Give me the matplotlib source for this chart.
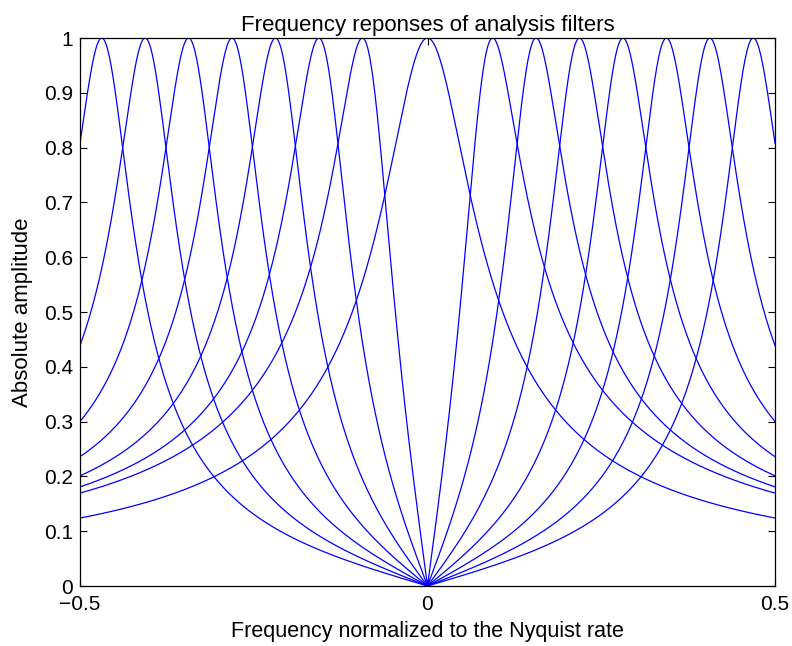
import numpy as np
import matplotlib
matplotlib.use("Agg")
import matplotlib.pyplot as plt

plt.rcParams['font.family'] = ['Liberation Sans', 'DejaVu Sans']

# Filter bank
# centre frequencies (normalized, Nyquist = 0.5); 0 is the lowpass channel
centers = [0.0, 0.09375, 0.15625, 0.21875, 0.28125, 0.34375, 0.40625, 0.46875]
# bandwidth parameter of each channel (lowpass cutoff for the first one)
bandwidths = [0.0625, 0.083, 0.083, 0.083, 0.083, 0.083, 0.083, 0.083]

x_ticks = [-0.5, 0, 0.5]
x_tick_labels = ['\u22120.5', '0', '0.5']
y_ticks = [0, 0.1, 0.2, 0.3, 0.4, 0.5, 0.6, 0.7, 0.8, 0.9, 1.0]
y_tick_labels = ['0', '0.1', '0.2', '0.3', '0.4', '0.5', '0.6', '0.7', '0.8', '0.9', '1']

freq = np.linspace(-0.5, 0.5, 4001)

fig = plt.figure(figsize=(7.92, 6.46), dpi=100)
ax = fig.add_axes([80 / 792, 1 - 586 / 646, (775 - 80) / 792, (586 - 38) / 646])

for fc, bw in zip(centers, bandwidths):
    if fc == 0:
        resp = 1.0 / np.sqrt(1.0 + (freq / bw) ** 2)
    else:
        resp = bw * np.abs(freq) / np.sqrt((fc ** 2 - freq ** 2) ** 2 + (bw * freq) ** 2)
    ax.plot(freq, resp, color='#0000ff', linewidth=0.9)

ax.set_xlim(-0.5, 0.5)
ax.set_ylim(0, 1)
ax.set_xticks(x_ticks)
ax.set_xticklabels(x_tick_labels)
ax.set_yticks(y_ticks)
ax.set_yticklabels(y_tick_labels)
ax.tick_params(direction='in', length=5, width=0.8, top=True, right=True,
               labelsize=15)
ax.tick_params(axis='y', pad=5)
ax.tick_params(axis='x', pad=6.5)
for s in ax.spines.values():
    s.set_linewidth(0.9)

ax.set_title('Frequency reponses of analysis filters', fontsize=16, pad=5)
ax.set_xlabel('Frequency normalized to the Nyquist rate', fontsize=15.5, labelpad=5)
ax.set_ylabel('Absolute amplitude', fontsize=16, labelpad=8)

fig.savefig('out.png', dpi=100)
